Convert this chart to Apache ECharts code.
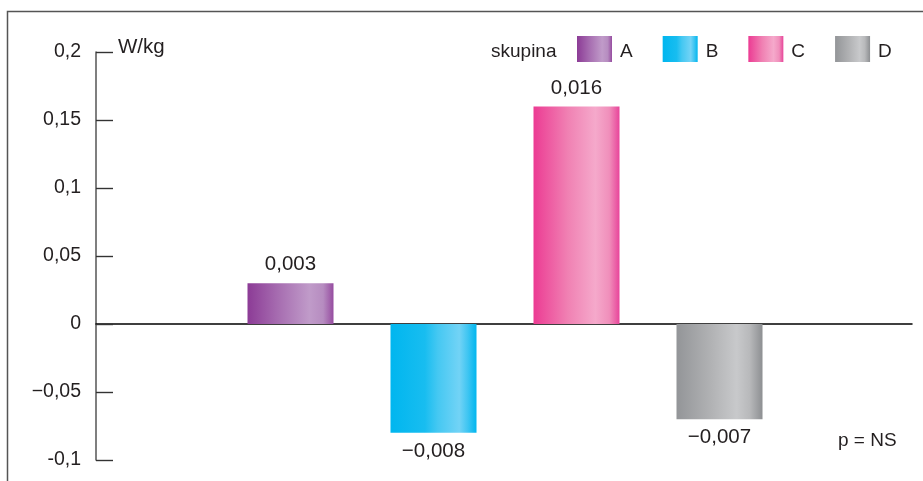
<!DOCTYPE html>
<html><head><meta charset="utf-8">
<script src="https://cdn.jsdelivr.net/npm/echarts@6/dist/echarts.min.js"></script>
<style>html,body{margin:0;padding:0;background:#fff}#c{width:923px;height:481px}</style>
</head><body><div id="c"></div>
<script>
const categories = ['A', 'B', 'C', 'D'];
const values = [0.03, -0.08, 0.16, -0.07];
const valueLabels = ['0,003', '\u22120,008', '0,016', '\u22120,007'];
const tickLabels = {'-0.1': '-0,1', '-0.05': '\u22120,05', '0': '0', '0.05': '0,05', '0.1': '0,1', '0.15': '0,15', '0.2': '0,2'};
const gradients = [
  [[0,'#8c3b96'],[0.35,'#a66cb0'],[0.72,'#c09bc9'],[0.88,'#b68cc0'],[1,'#964ca0']],
  [[0,'#00b6ef'],[0.4,'#18bdf0'],[0.55,'#45c8f2'],[0.8,'#72d3f6'],[0.9,'#3ec5f2'],[1,'#00b6ef']],
  [[0,'#ec3b93'],[0.4,'#f081b3'],[0.72,'#f5a9cb'],[0.88,'#f08fbb'],[1,'#e8449a']],
  [[0,'#939598'],[0.4,'#b1b2b4'],[0.7,'#c8c9cb'],[0.85,'#b8b9bb'],[1,'#8d8f92']]
];
const FONT = 'Liberation Sans';
const TXT = '#231f20';
function grad(stops){return {type:'linear',x:0,y:0,x2:1,y2:0,colorStops:stops.map(s=>({offset:s[0],color:s[1]}))};}

const series = categories.map((c, i) => ({
  name: c, type: 'bar', xAxisIndex: 1, yAxisIndex: 1,
  barWidth: 86, barGap: '-100%',
  data: categories.map((_, j) => j === i ? values[i] : '-'),
  itemStyle: {color: grad(gradients[i])},
  label: {show: true, position: values[i] >= 0 ? 'top' : 'bottom', distance: 8,
    fontFamily: FONT, fontSize: 20.5, color: TXT,
    formatter: () => valueLabels[i]},
  emphasis: {disabled: true}
}));

const chart = echarts.init(document.getElementById('c'), null, {renderer: 'canvas'});
chart.setOption({
  animation: false,
  grid: [
    {left: 96, right: 11, top: 52, bottom: 21},
    {left: 219, right: 132, top: 52, bottom: 21}
  ],
  xAxis: [
    {gridIndex: 0, type: 'category', data: categories, axisLine: {onZero: true, lineStyle: {color: '#000', width: 1.5}},
     axisTick: {show: false}, axisLabel: {show: false}, splitLine: {show: false}},
    {gridIndex: 1, type: 'category', data: categories, show: false}
  ],
  yAxis: [
    {gridIndex: 0, type: 'value', min: -0.1, max: 0.2, interval: 0.05,
     axisLine: {show: true, onZero: false, lineStyle: {color: '#555', width: 1.5}},
     axisTick: {show: true, inside: true, length: 17, lineStyle: {color: '#333', width: 1.4}},
     splitLine: {show: false},
     axisLabel: {margin: 15, fontFamily: FONT, fontSize: 19.5, color: TXT,
       formatter: v => tickLabels[String(Math.round(v*100)/100)] ?? String(v)}},
    {gridIndex: 1, type: 'value', min: -0.1, max: 0.2, interval: 0.05, show: false}
  ],
  legend: {
    data: categories, left: 577, top: 36, padding: 0, itemWidth: 35, itemHeight: 26, itemGap: 30,
    icon: 'rect', selectedMode: false,
    formatter: '{a|{name}}',
    textStyle: {fontFamily: FONT, fontSize: 19, color: TXT,
      rich: {a: {fontFamily: FONT, fontSize: 19, color: TXT, padding: [5, 0, 0, 3]}}}
  },
  graphic: [
    {type: 'rect', shape: {x: 7.5, y: 11.5, width: 1000, height: 1000}, style: {fill: 'none', stroke: '#555', lineWidth: 1.5}, silent: true},
    {type: 'text', left: 118, top: 37, style: {text: 'W/kg', font: '20.5px "Liberation Sans"', fill: TXT}},
    {type: 'text', left: 491, top: 42, style: {text: 'skupina', font: '19px "Liberation Sans"', fill: TXT}},
    {type: 'text', left: 838, top: 431, style: {text: 'p = NS', font: '19px "Liberation Sans"', fill: TXT}}
  ],
  series: series
});
</script>
</body></html>
